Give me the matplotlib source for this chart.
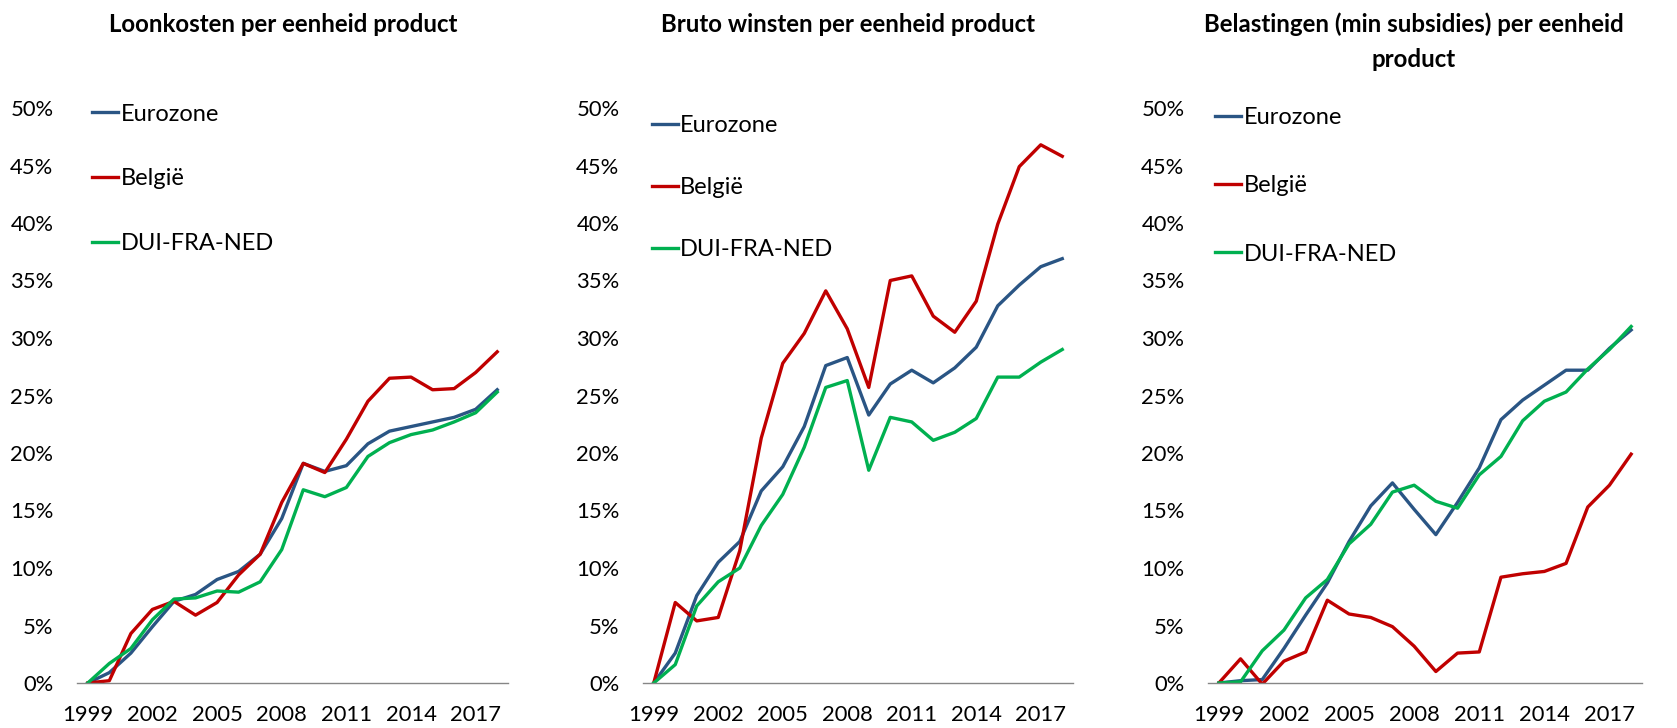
import matplotlib
matplotlib.use('Agg')
import matplotlib.pyplot as plt
from matplotlib.ticker import PercentFormatter

plt.rcParams['font.family'] = ['Lato', 'DejaVu Sans']

years = list(range(1999, 2019))
year_ticks = [1999, 2002, 2005, 2008, 2011, 2014, 2017]
series_names = ['Eurozone', 'België', 'DUI-FRA-NED']
colors = ['#2A5584', '#C00000', '#00B050']

# Loonkosten per eenheid product (% cumulatief t.o.v. 1999)
loon_eurozone = [0, 0.9, 2.6, 4.9, 7.1, 7.7, 9.0, 9.7, 11.2, 14.3, 19.1, 18.4, 18.9, 20.8, 21.9, 22.3, 22.7, 23.1, 23.8, 25.5]
loon_belgie = [0, 0.2, 4.3, 6.4, 7.1, 5.9, 7.0, 9.4, 11.2, 15.7, 19.1, 18.3, 21.2, 24.5, 26.5, 26.6, 25.5, 25.6, 27.0, 28.8]
loon_dfn = [0, 1.7, 3.0, 5.5, 7.3, 7.4, 8.0, 7.9, 8.8, 11.6, 16.8, 16.2, 17.0, 19.7, 20.9, 21.6, 22.0, 22.7, 23.5, 25.3]

# Bruto winsten per eenheid product
winst_eurozone = [0, 2.6, 7.6, 10.5, 12.3, 16.7, 18.8, 22.3, 27.6, 28.3, 23.3, 26.0, 27.2, 26.1, 27.4, 29.2, 32.8, 34.6, 36.2, 36.9]
winst_belgie = [0, 7.0, 5.4, 5.7, 11.5, 21.3, 27.8, 30.4, 34.1, 30.8, 25.7, 35.0, 35.4, 31.9, 30.5, 33.2, 39.9, 44.9, 46.8, 45.8]
winst_dfn = [0, 1.6, 6.7, 8.8, 10.0, 13.7, 16.4, 20.5, 25.7, 26.3, 18.5, 23.1, 22.7, 21.1, 21.8, 23.0, 26.6, 26.6, 27.9, 29.0]

# Belastingen (min subsidies) per eenheid product
bel_eurozone = [0, 0.2, 0.3, 3.0, 5.9, 8.7, 12.3, 15.4, 17.4, 15.1, 12.9, 15.7, 18.7, 22.9, 24.6, 25.9, 27.2, 27.2, 29.1, 30.7]
bel_belgie = [0, 2.1, -0.1, 1.9, 2.7, 7.2, 6.0, 5.7, 4.9, 3.2, 1.0, 2.6, 2.7, 9.2, 9.5, 9.7, 10.4, 15.3, 17.2, 19.9]
bel_dfn = [0, 0.1, 2.8, 4.6, 7.4, 9.0, 12.1, 13.8, 16.6, 17.2, 15.8, 15.2, 18.1, 19.7, 22.8, 24.5, 25.3, 27.3, 29.0, 31.0]

panels = [
    (['Loonkosten per eenheid product'], [loon_eurozone, loon_belgie, loon_dfn]),
    (['Bruto winsten per eenheid product'], [winst_eurozone, winst_belgie, winst_dfn]),
    (['Belastingen (min subsidies) per eenheid', 'product'], [bel_eurozone, bel_belgie, bel_dfn]),
]

W, H = 1677, 728
fig = plt.figure(figsize=(W / 100, H / 100), dpi=100)

# per panel: axes left/right px, title centre px, legend anchor (axes fraction), legend row spacing
layout = [
    (77, 508, 283, (0.013, 1.024), 1.85),
    (643, 1073, 848, (-0.001, 1.004), 1.74),
    (1208, 1642, 1414, (-0.0055, 1.018), 2.0),
]
y_bottom, y_top = 683, 108

for (title_lines, data), (x0, x1, tx, anchor, spacing) in zip(panels, layout):
    ax = fig.add_axes([x0 / W, (H - y_bottom) / H, (x1 - x0) / W, (y_bottom - y_top) / H])
    for vals, name, c in zip(data, series_names, colors):
        ax.plot(years, vals, color=c, lw=2.4, label=name)
    ax.set_xlim(1998.5, 2018.5)
    ax.set_ylim(0, 50)
    ax.set_yticks(range(0, 51, 5))
    ax.yaxis.set_major_formatter(PercentFormatter(decimals=0))
    ax.set_xticks(year_ticks)
    ax.tick_params(axis='both', length=0, labelsize=15.8, colors='black')
    ax.tick_params(axis='y', pad=17)
    ax.tick_params(axis='x', pad=16)
    for side in ['top', 'right', 'left']:
        ax.spines[side].set_visible(False)
    ax.spines['bottom'].set_color('#868686')
    ax.spines['bottom'].set_linewidth(1.0)
    ax.patch.set_alpha(0)
    ax.legend(loc='upper left', bbox_to_anchor=anchor, frameon=False, fontsize=17,
              handlelength=1.1, handletextpad=0.1, labelspacing=spacing, borderaxespad=0)
    for i, line in enumerate(title_lines):
        fig.text(tx / W, 1 - (32 + 35 * i) / H, line, ha='center', va='baseline',
                 fontsize=17.3, fontweight='bold')

fig.savefig('out.png', dpi=100)
